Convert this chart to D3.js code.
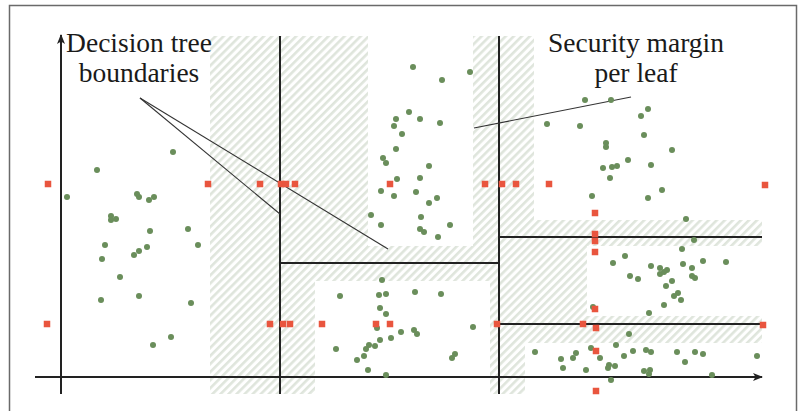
<html>
<head>
<style>
  body { margin: 0; background: #fff; }
</style>
</head>
<body>
<svg id="cont" width="804" height="411"></svg>

<script src="https://cdn.jsdelivr.net/npm/d3@7/dist/d3.min.js"></script>
<script>
// feature space (abstract units), origin at the axes crossing
const greenTopLeft = [[112,225],[36,207],[6,180],[76,183],[78,180],[88,177],[93,180],[50,161],[55,158],[50,157],
  [89,146],[127,148],[44,132],[137,132],[41,118],[86,130],[78,126],[73,122],[59,100],[40,77],[78,81],[130,74],[110,40],[92,32]];
const greenTopMid = [[352,310],[381,297],[409,305],[348,265],[335,258],[359,258],[333,251],[379,254],[341,243],[335,228],
  [322,219],[325,214],[368,211],[336,198],[359,199],[320,186],[333,181],[355,185],[368,174],[376,179],[310,162],[360,160],
  [320,152],[359,148],[363,145],[389,152],[377,140]];
const greenBottomMid = [[321,97],[279,81],[318,82],[325,83],[354,85],[380,83],[319,69],[325,63],[316,49],[340,45],[353,47],
  [356,43],[412,50],[330,39],[319,37],[314,31],[308,32],[305,28],[275,28],[303,21],[296,17],[307,7],[325,2],[394,23],[391,19]];
const greenTopRight = [[524,277],[550,277],[587,268],[580,261],[486,253],[519,251],[583,242],[545,234],[545,230],[611,227],
  [567,217],[590,212],[542,209],[551,210],[556,211],[549,199],[531,181],[601,187],[587,179],[625,158]];
const greenMidRight = [[633,137],[621,128],[564,121],[552,114],[590,111],[599,109],[622,113],[631,109],[642,116],[665,115],
  [606,107],[599,103],[603,105],[569,101],[577,98],[631,101],[634,99],[611,96],[605,91],[617,84],[613,81],[620,77],[603,72],
  [588,64],[532,70],[568,43]];
const greenBottomRight = [[555,32],[474,25],[500,18],[515,24],[512,19],[502,9],[530,29],[539,19],[525,7],[548,12],[547,9],
  [554,11],[563,21],[572,26],[585,27],[590,25],[550,-3],[583,6],[589,7],[588,3],[616,25],[634,25],[642,23],[624,15],[651,2],[696,21]];

// probe points (red squares)
const redRowHigh = [[-13,193],[147,193],[199,193],[220,193],[225,193],[234,193],[329,193],[424,193],[441,193],[455,193],[488,193],[704,192]];
const redRowLow = [[-14,53],[209,53],[222,53],[229,53],[261,53],[315,53],[329,53],[436,53],[522,53],[702,52]];
const redColumn = [[534,164],[534,143],[534,136],[534,125],[534,68],[535,49],[535,26],[535,-14]];

// tree splits
const splits = [
  {x1: 219, y1: -17, x2: 219, y2: 341},
  {x1: 438, y1: -17, x2: 438, y2: 341},
  {x1: 219, y1: 114, x2: 438, y2: 114},
  {x1: 438, y1: 140, x2: 701, y2: 140},
  {x1: 438, y1: 53, x2: 701, y2: 53}
];

// margin zone and the safe part of each leaf
const marginZone = {x0: 149, x1: 701, y0: -17, y1: 341};
const safeBoxes = [
  {x0: 307, x1: 412, y0: 131, y1: 341},
  {x0: 254, x1: 429, y0: -17, y1: 96},
  {x0: 473, x1: 701, y0: 157, y1: 341},
  {x0: 526, x1: 701, y0: 61, y1: 131},
  {x0: 464, x1: 701, y0: -17, y1: 34}
];

const labels = [
  {lines: ["Decision tree", "boundaries"], x: 78, y: 325},
  {lines: ["Security margin", "per leaf"], x: 575, y: 325}
];
const pointers = [
  [[79,279],[219,163]],
  [[79,279],[327,128]],
  [[413,249],[570,280]]
];

const svg = d3.select("#cont");

const x = d3.scaleLinear().domain([0, 701]).range([61, 762]);
const y = d3.scaleLinear().domain([0, 341]).range([377, 36]);

const defs = svg.append("defs");
defs.append("pattern")
    .attr("id", "hatch")
    .attr("patternUnits", "userSpaceOnUse")
    .attr("width", 5.7).attr("height", 10)
    .attr("patternTransform", "rotate(45)")
  .append("rect")
    .attr("width", 2.6).attr("height", 10)
    .attr("fill", "#dfe5dc");

defs.append("marker")
    .attr("id", "arrow")
    .attr("viewBox", "0 0 10 10")
    .attr("refX", 9).attr("refY", 5)
    .attr("markerWidth", 10).attr("markerHeight", 10)
    .attr("markerUnits", "userSpaceOnUse")
    .attr("orient", "auto")
  .append("path")
    .attr("d", "M0,1 L10,5 L0,9 L2.5,5 Z")
    .attr("fill", "#222");

// outer frame
svg.append("rect")
    .attr("x", 9.5).attr("y", 5.5)
    .attr("width", 787).attr("height", 420)
    .attr("fill", "none")
    .attr("stroke", "#6a6a6a")
    .attr("stroke-width", 1.5);

// margins
svg.append("rect")
    .attr("x", x(marginZone.x0)).attr("y", y(marginZone.y1))
    .attr("width", x(marginZone.x1) - x(marginZone.x0))
    .attr("height", y(marginZone.y0) - y(marginZone.y1))
    .attr("fill", "url(#hatch)");

svg.selectAll(".safe")
    .data(safeBoxes)
    .enter()
    .append("rect")
    .attr("x", d => x(d.x0)).attr("y", d => y(d.y1))
    .attr("width", d => x(d.x1) - x(d.x0))
    .attr("height", d => y(d.y0) - y(d.y1))
    .attr("fill", "#fff");

// axes
svg.append("line")
    .attr("x1", x(-26)).attr("y1", y(0))
    .attr("x2", x(701)).attr("y2", y(0))
    .attr("stroke", "#222").attr("stroke-width", 2)
    .attr("marker-end", "url(#arrow)");
svg.append("line")
    .attr("x1", x(0)).attr("y1", y(-17))
    .attr("x2", x(0)).attr("y2", y(342))
    .attr("stroke", "#222").attr("stroke-width", 2)
    .attr("marker-end", "url(#arrow)");

svg.selectAll(".split")
    .data(splits)
    .enter()
    .append("line")
    .attr("x1", d => x(d.x1)).attr("y1", d => y(d.y1))
    .attr("x2", d => x(d.x2)).attr("y2", d => y(d.y2))
    .attr("stroke", "#222")
    .attr("stroke-width", 2);

svg.selectAll(".pointer")
    .data(pointers)
    .enter()
    .append("line")
    .attr("x1", d => x(d[0][0])).attr("y1", d => y(d[0][1]))
    .attr("x2", d => x(d[1][0])).attr("y2", d => y(d[1][1]))
    .attr("stroke", "#333")
    .attr("stroke-width", 1.1);

const greens = [].concat(greenTopLeft, greenTopMid, greenBottomMid, greenTopRight, greenMidRight, greenBottomRight);
svg.selectAll(".pt")
    .data(greens)
    .enter()
    .append("circle")
    .attr("cx", d => x(d[0]))
    .attr("cy", d => y(d[1]))
    .attr("r", 3)
    .attr("fill", "#6a8e5b");

const reds = [].concat(redRowHigh, redRowLow, redColumn);
const s = 6.5;
svg.selectAll(".probe")
    .data(reds)
    .enter()
    .append("rect")
    .attr("x", d => x(d[0]) - s / 2)
    .attr("y", d => y(d[1]) - s / 2)
    .attr("width", s).attr("height", s)
    .attr("fill", "#e9553e");

labels.forEach(l => {
    svg.append("text")
        .attr("x", x(l.x)).attr("y", y(l.y))
        .attr("text-anchor", "middle")
        .style("font-family", "'Liberation Serif', 'DejaVu Serif', serif")
        .style("font-size", "27.5px")
        .attr("fill", "#1a1a1a")
        .selectAll("tspan")
        .data(l.lines)
        .enter()
        .append("tspan")
        .attr("x", x(l.x))
        .attr("dy", (d, i) => i == 0 ? 0 : 30)
        .text(d => d);
});
</script>
</body>
</html>
